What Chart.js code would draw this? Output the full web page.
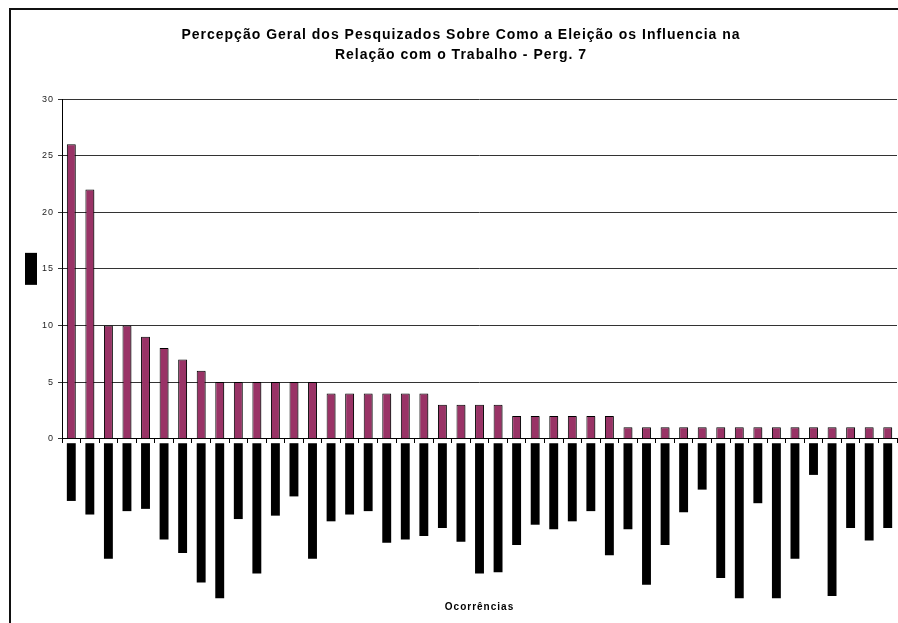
<!DOCTYPE html>
<html>
<head>
<meta charset="utf-8">
<script src="https://cdn.jsdelivr.net/npm/chart.js@4.4.1/dist/chart.umd.min.js"></script>
<style>
  html, body { margin: 0; padding: 0; background: #fff; }
  #wrap { position: relative; width: 898px; height: 623px; }
</style>
</head>
<body>
<div id="wrap"><canvas id="chart" width="898" height="623"></canvas></div>
<script>
// Category labels are not legible in the source (they print as solid blocks)
const categories = [
  '1', '2', '3', '4', '5', '6', '7', '8', '9', '10',
  '11', '12', '13', '14', '15', '16', '17', '18', '19', '20',
  '21', '22', '23', '24', '25', '26', '27', '28', '29', '30',
  '31', '32', '33', '34', '35', '36', '37', '38', '39', '40',
  '41', '42', '43', '44', '45'
];

// Ocorrências per answer
const occurrences = [
  26, 22, 10, 10, 9, 8, 7, 6, 5, 5,
  5, 5, 5, 5, 4, 4, 4, 4, 4, 4,
  3, 3, 3, 3, 2, 2, 2, 2, 2, 2,
  1, 1, 1, 1, 1, 1, 1, 1, 1, 1,
  1, 1, 1, 1, 1
];

// length of the blacked-out category label under each bar (axis units)
const labelBlocks = [
  5.5, 6.7, 10.6, 6.4, 6.2, 8.9, 10.1, 12.7, 14.1, 7.1,
  11.9, 6.8, 5.1, 10.6, 7.3, 6.7, 6.4, 9.2, 8.9, 8.6,
  7.9, 9.1, 11.9, 11.8, 9.4, 7.6, 8.0, 7.3, 6.4, 10.3,
  8.0, 12.9, 9.4, 6.5, 4.5, 12.3, 14.1, 5.7, 14.1, 10.6,
  3.2, 13.9, 7.9, 9.0, 7.9
];

const yTicks = [0, 5, 10, 15, 20, 25, 30];

const titleLines = [
  'Percepção Geral dos Pesquizados Sobre Como a Eleição os Influencia na',
  'Relação com o Trabalho - Perg. 7'
];

const FONT = "'Liberation Sans', Arial, sans-serif";

// outer chart frame (only top and left edges are in view) + wide text spacing
const framePlugin = {
  id: 'frame',
  beforeDraw(chart) {
    const ctx = chart.ctx;
    ctx.save();
    ctx.strokeStyle = '#111';
    ctx.lineWidth = 2;
    ctx.strokeRect(10, 9, chart.width + 20, chart.height + 20);
    ctx.restore();
    ctx.letterSpacing = '1px';
  }
};

// y axis line only over the positive range; the blacked-out y title
const axisPlugin = {
  id: 'axisExtras',
  beforeDatasetsDraw(chart) {
    const y = chart.scales.y;
    const ctx = chart.ctx;
    const x = Math.round(y.right) + 0.5;
    ctx.save();
    ctx.strokeStyle = '#000';
    ctx.lineWidth = 1;
    ctx.beginPath();
    ctx.moveTo(x, y.getPixelForValue(y.max));
    ctx.lineTo(x, y.getPixelForValue(0));
    ctx.stroke();

    const mid = y.getPixelForValue(y.max / 2);
    ctx.fillStyle = '#000';
    ctx.fillRect(y.left, mid - 16, 12, 32);
    ctx.restore();
  },
  beforeDatasetDraw(chart, args) {
    if (args.index !== 0) return;
    const ctx = chart.ctx;
    ctx.save();
    ctx.shadowColor = 'rgba(0,0,0,0.3)';
    ctx.shadowOffsetX = 2;
    ctx.shadowOffsetY = 1;
  },
  afterDatasetDraw(chart, args) {
    if (args.index !== 0) return;
    chart.ctx.restore();
  }
};

new Chart(document.getElementById('chart').getContext('2d'), {
  type: 'bar',
  data: {
    labels: categories,
    datasets: [
      {
        label: 'Ocorrências',
        data: occurrences,
        xAxisID: 'x',
        backgroundColor: '#993366',
        borderColor: '#000',
        borderWidth: 1,
        grouped: false,
        barPercentage: 0.48,
        categoryPercentage: 1
      },
      {
        label: 'Rótulo',
        data: labelBlocks.map(function (v) { return -v; }),
        xAxisID: 'x',
        base: -0.4,
        backgroundColor: '#000',
        borderWidth: 0,
        grouped: false,
        barPercentage: 0.48,
        categoryPercentage: 1
      }
    ]
  },
  options: {
    responsive: false,
    animation: false,
    layout: { padding: { left: 25, right: 1, top: 25, bottom: 10 } },
    plugins: {
      legend: { display: false },
      tooltip: { enabled: false },
      title: {
        display: true,
        text: titleLines,
        color: '#000',
        font: { family: FONT, size: 14, weight: 'bold', lineHeight: 1.43 },
        padding: { top: 0, bottom: 34 }
      }
    },
    scales: {
      x: {
        type: 'category',
        position: { y: 0 },
        offset: true,
        ticks: { display: false },
        grid: { offset: true, drawOnChartArea: false, tickLength: 4, color: '#000' },
        border: { color: '#000', width: 1 }
      },
      x2: {
        type: 'category',
        axis: 'x',
        position: 'bottom',
        offset: true,
        ticks: { display: false },
        grid: { display: false, drawTicks: false },
        border: { display: false },
        title: {
          display: true,
          text: 'Ocorrências',
          color: '#000',
          font: { family: FONT, size: 10, weight: 'bold', lineHeight: 1.2 },
          padding: { top: 1, bottom: 0 }
        }
      },
      y: {
        min: -14.25,
        max: 30,
        afterBuildTicks: function (scale) {
          scale.ticks = yTicks.map(function (v) { return { value: v }; });
        },
        ticks: { color: '#222', padding: 4, font: { family: FONT, size: 9 } },
        grid: { color: '#333', tickLength: 4 },
        border: { display: false },
        title: {
          display: true,
          text: '',
          font: { family: FONT, size: 12, lineHeight: 1 },
          padding: { top: 0, bottom: 3 }
        }
      }
    }
  },
  plugins: [framePlugin, axisPlugin]
});
</script>
</body>
</html>
